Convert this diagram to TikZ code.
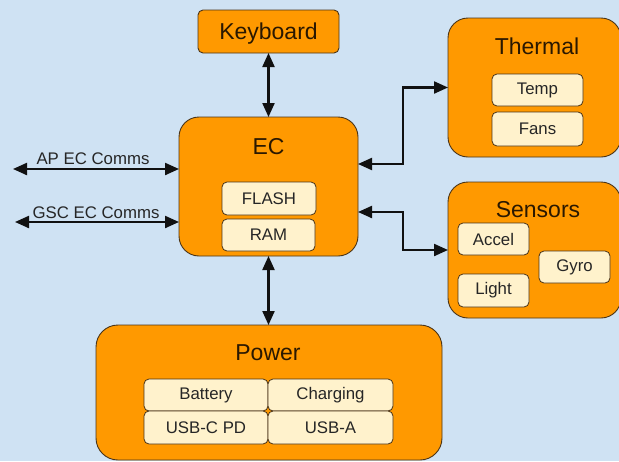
\documentclass[tikz,border=0pt]{standalone}
\usepackage{fontspec}
\setmainfont{Liberation Sans}
\usetikzlibrary{arrows.meta,positioning}
\definecolor{bgblue}{HTML}{CFE2F3}
\definecolor{orng}{HTML}{FF9900}
\definecolor{cream}{HTML}{FFF2CC}
\definecolor{edge}{HTML}{4A3418}
\definecolor{txt}{HTML}{2A1800}
\definecolor{linec}{HTML}{111111}
\tikzset{
  bigbox/.style={draw=edge, line width=0.9pt, fill=orng, rounded corners=20pt, anchor=north west, inner sep=0pt, outer sep=0pt},
  kbbox/.style={draw=edge, line width=0.9pt, fill=orng, rounded corners=5pt, anchor=north west, inner sep=0pt, outer sep=0pt, text=txt, text depth=0pt, font=\fontsize{23}{27}\selectfont},
  subbox/.style={draw=edge, line width=0.8pt, fill=cream, rounded corners=5pt, anchor=north west, inner sep=0pt, outer sep=0pt, text=black!85, font=\fontsize{16.8}{20}\selectfont},
  biglabel/.style={text=txt, font=\fontsize{23}{27}\selectfont, inner sep=0pt},
  commlabel/.style={text=black!85, font=\fontsize{16.8}{20}\selectfont, inner sep=0pt},
  dbl/.style={line width=2.2pt, draw=linec, {Triangle[length=14pt,width=12pt]}-{Triangle[length=14pt,width=12pt]}}
}
\begin{document}
\begin{tikzpicture}[x=1pt,y=-1pt]
\useasboundingbox (0,0) rectangle (619,461);
\clip (0,0) rectangle (619,461);
\fill[bgblue] (0,0) rectangle (619,461);

% Keyboard
\node[kbbox, minimum width=141pt, minimum height=43pt] (kb) at (198,10) {Keyboard};

% EC
\node[bigbox, minimum width=179pt, minimum height=139pt] (ec) at (179,117) {};
\node[biglabel] (ecl) at (268.5,147) {EC};
\node[subbox, minimum width=94pt, minimum height=33pt] (flash) at (222,182) {FLASH};
\node[subbox, minimum width=93pt, minimum height=32pt] (ram) at (222,219) {RAM};

% Thermal
\node[bigbox, minimum width=173pt, minimum height=139pt] (th) at (448,18) {};
\node[biglabel] (thl) at (537,46) {Thermal};
\node[subbox, minimum width=91pt, minimum height=32pt] (temp) at (492,74) {Temp};
\node[subbox, minimum width=91pt, minimum height=34pt] (fans) at (492,112) {Fans};

% Sensors
\node[bigbox, minimum width=173pt, minimum height=136pt] (sn) at (448,182) {};
\node[biglabel] (snl) at (538,210) {Sensors};
\node[subbox, minimum width=71pt, minimum height=32pt] (accel) at (458,223) {Accel};
\node[subbox, minimum width=71pt, minimum height=32pt] (gyro) at (539,251) {Gyro};
\node[subbox, minimum width=71pt, minimum height=33pt] (light) at (458,274) {Light};

% Power
\node[bigbox, rounded corners=22pt, minimum width=346pt, minimum height=135pt] (pw) at (96,325) {};
\node[biglabel] (pwl) at (268,353) {Power};
\node[subbox, minimum width=124pt, minimum height=32pt] (bat) at (144,379) {Battery};
\node[subbox, minimum width=125pt, minimum height=32pt] (chg) at (268,379) {Charging};
\node[subbox, minimum width=124pt, minimum height=33pt] (usbc) at (144,411) {USB-C PD};
\node[subbox, minimum width=125pt, minimum height=33pt] (usba) at (268,411) {USB-A};

% Comms
\coordinate (ap) at (13,169);
\coordinate (gsc) at (15,222);
\draw[dbl] (ap) -- (ec.west |- ap);
\draw[dbl] (gsc) -- (ec.west |- gsc);
\node[commlabel] (apl) at (93,159) {AP EC Comms};
\node[commlabel] (gscl) at (96,213) {GSC EC Comms};

% Connectors
\draw[dbl] (kb.south) -- (ec.north);
\draw[dbl] (ec.south) -- (ec.south |- pw.north);
\coordinate (thj) at (403,164);
\coordinate (snj) at (403,212);
\draw[dbl] (ec.east |- thj) -- (thj) |- (th.west);
\draw[dbl] (ec.east |- snj) -- (snj) |- (sn.west);
\end{tikzpicture}
\end{document}
